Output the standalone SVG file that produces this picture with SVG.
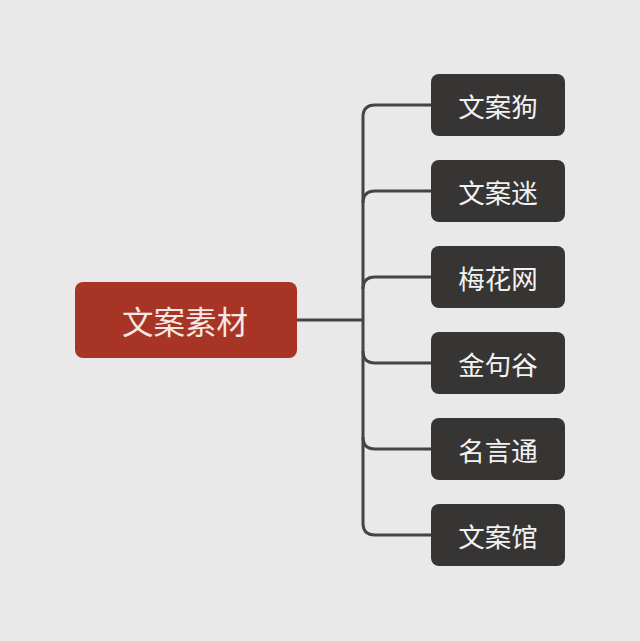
<svg xmlns="http://www.w3.org/2000/svg" width="640" height="641" viewBox="0 0 640 641">
<style>
.leaf rect{fill:#363533;}
.leaf text{fill:#f2f2f2;font-family:"Noto Sans CJK SC","Noto Sans",sans-serif;font-size:26.5px;text-anchor:middle;dominant-baseline:central;}
.root rect{fill:#a83425;}
.root text{fill:#f6e8e4;font-family:"Noto Sans CJK SC","Noto Sans",sans-serif;font-size:31.5px;text-anchor:middle;dominant-baseline:central;}
.conn path{fill:none;stroke:#454545;stroke-width:3;}
</style>
<rect width="640" height="641" fill="#e9e9e9"/>
<g class="conn">
<path d="M297 320 H363"/>
<path d="M431 105 H375 Q363 105 363 117 V523 Q363 535 375 535 H431"/>
<path d="M431 191 H375 Q363 191 363 203"/>
<path d="M431 277 H375 Q363 277 363 289"/>
<path d="M431 363 H375 Q363 363 363 351"/>
<path d="M431 449 H375 Q363 449 363 437"/>
</g>
<g id="root" class="root"><rect x="75" y="282" width="222" height="76" rx="8"/><text x="185" y="320">文案素材</text></g>
<g id="n1" class="leaf"><rect x="431" y="74" width="134" height="62" rx="8"/><text x="498" y="105">文案狗</text></g>
<g id="n2" class="leaf"><rect x="431" y="160" width="134" height="62" rx="8"/><text x="498" y="191">文案迷</text></g>
<g id="n3" class="leaf"><rect x="431" y="246" width="134" height="62" rx="8"/><text x="498" y="277">梅花网</text></g>
<g id="n4" class="leaf"><rect x="431" y="332" width="134" height="62" rx="8"/><text x="498" y="363">金句谷</text></g>
<g id="n5" class="leaf"><rect x="431" y="418" width="134" height="62" rx="8"/><text x="498" y="449">名言通</text></g>
<g id="n6" class="leaf"><rect x="431" y="504" width="134" height="62" rx="8"/><text x="498" y="535">文案馆</text></g>
</svg>
